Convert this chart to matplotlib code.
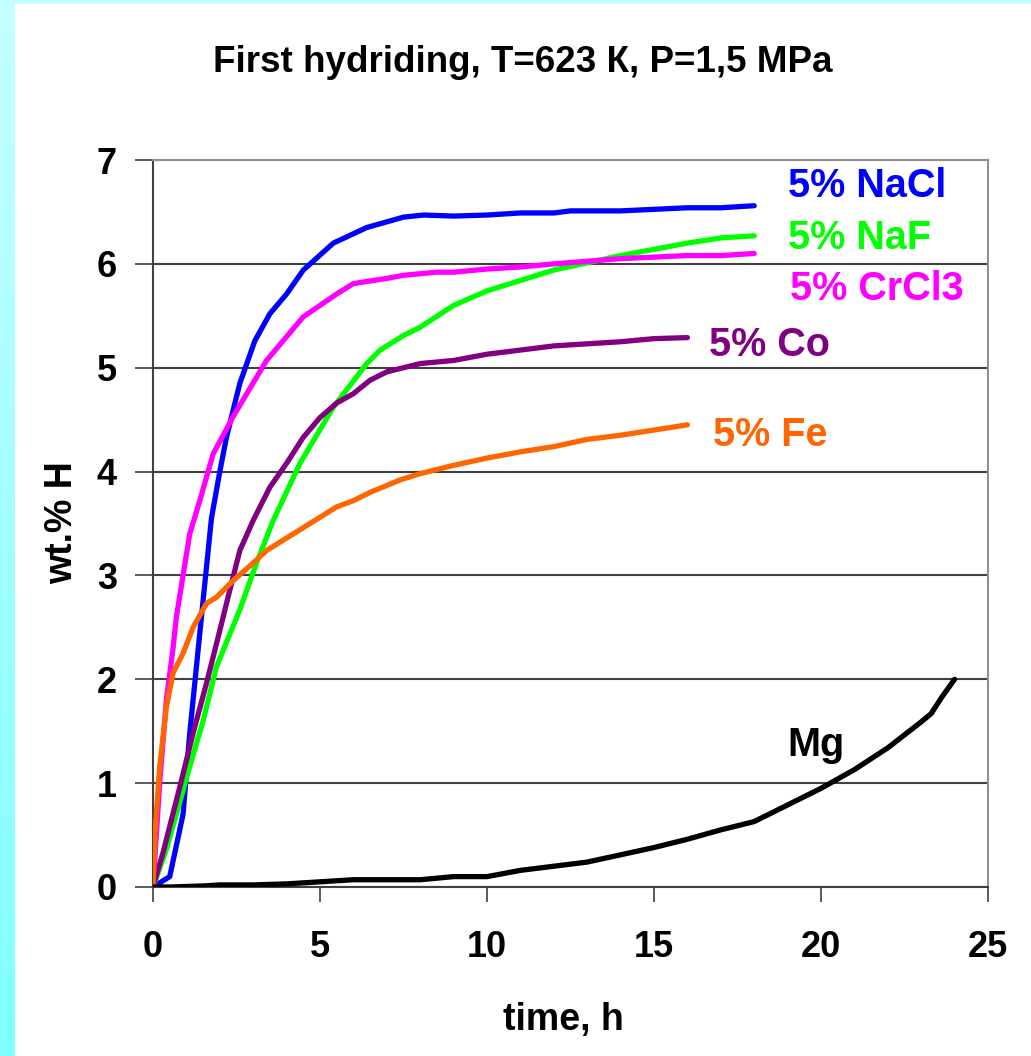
import numpy as np
import matplotlib
matplotlib.use("Agg")
import matplotlib.pyplot as plt

plt.rcParams['font.family'] = ['Liberation Sans', 'DejaVu Sans']
plt.rcParams['font.weight'] = 'bold'

# hydrogen uptake curves, wt.% H versus time (h)
t_nacl = [0, 0.5, 0.9, 1.1, 1.35, 1.5, 1.75, 2.0, 2.2, 2.6, 3.05, 3.5, 4.0, 4.5, 5.4, 6.4, 7.5, 8.1, 9.0, 10.0, 11.0, 12.0, 12.5, 14.0, 16.0, 17.0, 18.0]
h_nacl = [0, 0.1, 0.7, 1.48, 2.28, 2.76, 3.55, 4.0, 4.33, 4.85, 5.26, 5.52, 5.71, 5.94, 6.2, 6.35, 6.45, 6.47, 6.46, 6.47, 6.49, 6.49, 6.51, 6.51, 6.54, 6.54, 6.56]

t_naf = [0, 0.4, 1.1, 1.5, 1.9, 2.6, 3.1, 3.6, 4.4, 5.4, 6.4, 6.8, 7.5, 8.0, 9.0, 10.0, 11.0, 12.0, 13.0, 14.0, 15.0, 16.0, 17.0, 18.0]
h_naf = [0, 0.36, 1.16, 1.6, 2.12, 2.67, 3.12, 3.53, 4.08, 4.62, 5.04, 5.17, 5.31, 5.39, 5.6, 5.74, 5.84, 5.94, 6.01, 6.08, 6.14, 6.2, 6.25, 6.27]

t_crcl3 = [0, 0.2, 0.4, 0.6, 0.7, 0.9, 1.1, 1.4, 1.8, 2.4, 3.4, 4.5, 5.5, 6.0, 7.0, 7.5, 8.5, 9.0, 10.0, 11.0, 12.0, 14.0, 16.0, 17.0, 18.0]
h_crcl3 = [0, 1.0, 1.8, 2.3, 2.6, 3.0, 3.4, 3.72, 4.17, 4.53, 5.07, 5.49, 5.71, 5.81, 5.86, 5.89, 5.92, 5.92, 5.95, 5.97, 6.0, 6.05, 6.08, 6.08, 6.1]

t_co = [0, 0.3, 0.8, 1.2, 1.6, 2.0, 2.3, 2.6, 3.0, 3.5, 4.0, 4.5, 5.0, 5.5, 6.0, 6.5, 7.0, 7.5, 8.0, 9.0, 10.0, 11.0, 12.0, 13.0, 14.0, 15.0, 16.0]
h_co = [0, 0.33, 0.96, 1.48, 1.96, 2.47, 2.86, 3.24, 3.53, 3.85, 4.08, 4.33, 4.52, 4.66, 4.75, 4.88, 4.96, 5.0, 5.04, 5.07, 5.13, 5.17, 5.21, 5.23, 5.25, 5.28, 5.29]

t_fe = [0, 0.06, 0.2, 0.4, 0.6, 0.9, 1.2, 1.6, 1.9, 2.4, 3.0, 3.4, 3.9, 4.4, 5.0, 5.5, 6.0, 6.5, 7.4, 8.0, 9.0, 10.0, 11.0, 12.0, 13.0, 14.0, 15.0, 16.0]
h_fe = [0, 0.52, 1.16, 1.73, 2.06, 2.25, 2.5, 2.73, 2.79, 2.95, 3.12, 3.24, 3.34, 3.44, 3.56, 3.66, 3.72, 3.8, 3.92, 3.98, 4.06, 4.13, 4.19, 4.24, 4.31, 4.35, 4.4, 4.45]

t_mg = [0, 0.5, 1.5, 2.0, 3.0, 4.0, 5.0, 6.0, 7.0, 8.0, 9.0, 10.0, 11.0, 12.0, 13.0, 14.0, 15.0, 16.0, 17.0, 18.0, 19.0, 20.0, 21.0, 22.0, 23.0, 23.3, 23.6, 24.0]
h_mg = [0, 0, 0.01, 0.02, 0.02, 0.03, 0.05, 0.07, 0.07, 0.07, 0.1, 0.1, 0.16, 0.2, 0.24, 0.31, 0.38, 0.46, 0.55, 0.63, 0.79, 0.95, 1.13, 1.34, 1.59, 1.67, 1.82, 2.0]

series = [
    ("5% NaCl", t_nacl, h_nacl, "#0000ff"),
    ("5% NaF", t_naf, h_naf, "#00ff00"),
    ("5% CrCl3", t_crcl3, h_crcl3, "#ff00ff"),
    ("5% Co", t_co, h_co, "#800080"),
    ("5% Fe", t_fe, h_fe, "#ff6600"),
    ("Mg", t_mg, h_mg, "#000000"),
]
# where each curve name sits (data coords)
label_pos = {
    "5% NaCl": (19.0, 6.75),
    "5% NaF": (19.0, 6.25),
    "5% CrCl3": (19.07, 5.76),
    "5% Co": (16.65, 5.22),
    "5% Fe": (16.77, 4.35),
    "Mg": (18.98, 1.37),
}

fig = plt.figure(figsize=(10.31, 10.56), dpi=100)
fig.patch.set_facecolor("white")

# light cyan frame: gradient strip on the left, thin band on top
side = fig.add_axes([0, 0, 15 / 1031, 1])
grad = np.linspace(0, 1, 256).reshape(-1, 1)
cols = np.zeros((256, 1, 3))
cols[:, 0, 0] = 0.5 + 0.27 * grad[:, 0]
cols[:, 0, 1] = 1.0
cols[:, 0, 2] = 1.0
side.imshow(cols, aspect="auto", origin="lower", extent=[0, 1, 0, 1])
side.axis("off")
top = fig.add_axes([0, 1 - 4 / 1056, 1, 4 / 1056])
top.set_facecolor("#c4ffff")
top.set_xticks([])
top.set_yticks([])
for s in top.spines.values():
    s.set_visible(False)

ax = fig.add_axes([153 / 1031, 169 / 1056, 835 / 1031, 727 / 1056])
for name, t, h, c in series:
    ax.plot(t, h, color=c, lw=3.8, solid_capstyle="round", solid_joinstyle="round", zorder=3)
    lx, ly = label_pos[name]
    ax.text(lx, ly, name, color=c, fontsize=28.5, fontweight="bold", va="center", ha="left")

ax.set_xlim(0, 25)
ax.set_ylim(0, 7)
ax.set_xticks(range(0, 26, 5))
ax.set_yticks(range(0, 8))
ax.yaxis.grid(True, color="#404040", lw=1.5, zorder=1)
ax.set_axisbelow(True)
ax.tick_params(axis="y", direction="out", length=13, width=1.2, color="#404040", labelsize=26, pad=13)
ax.tick_params(axis="x", direction="out", length=11, width=1.2, color="#404040", labelsize=26, pad=20)
for lab in ax.get_xticklabels() + ax.get_yticklabels():
    lab.set_fontweight("bold")
ax.spines["left"].set_color("#404040")
ax.spines["bottom"].set_color("#404040")
ax.spines["left"].set_linewidth(1.5)
ax.spines["bottom"].set_linewidth(1.5)
ax.spines["top"].set_color("#909090")
ax.spines["right"].set_color("#909090")
ax.spines["top"].set_linewidth(1.5)
ax.spines["right"].set_linewidth(1.5)

fig.text(563 / 1031, 1 - 1020 / 1056, "time, h", fontsize=27, fontweight="bold",
         ha="center", va="center")
fig.text(62 / 1031, 1 - 523 / 1056, "wt.% H", fontsize=27, fontweight="bold",
         ha="center", va="center", rotation=90)
fig.text(523 / 1031, 1 - 62 / 1056, "First hydriding, T=623 К, P=1,5 MPa",
         fontsize=26.5, fontweight="bold", ha="center", va="center")

fig.savefig("out.png", dpi=100)
